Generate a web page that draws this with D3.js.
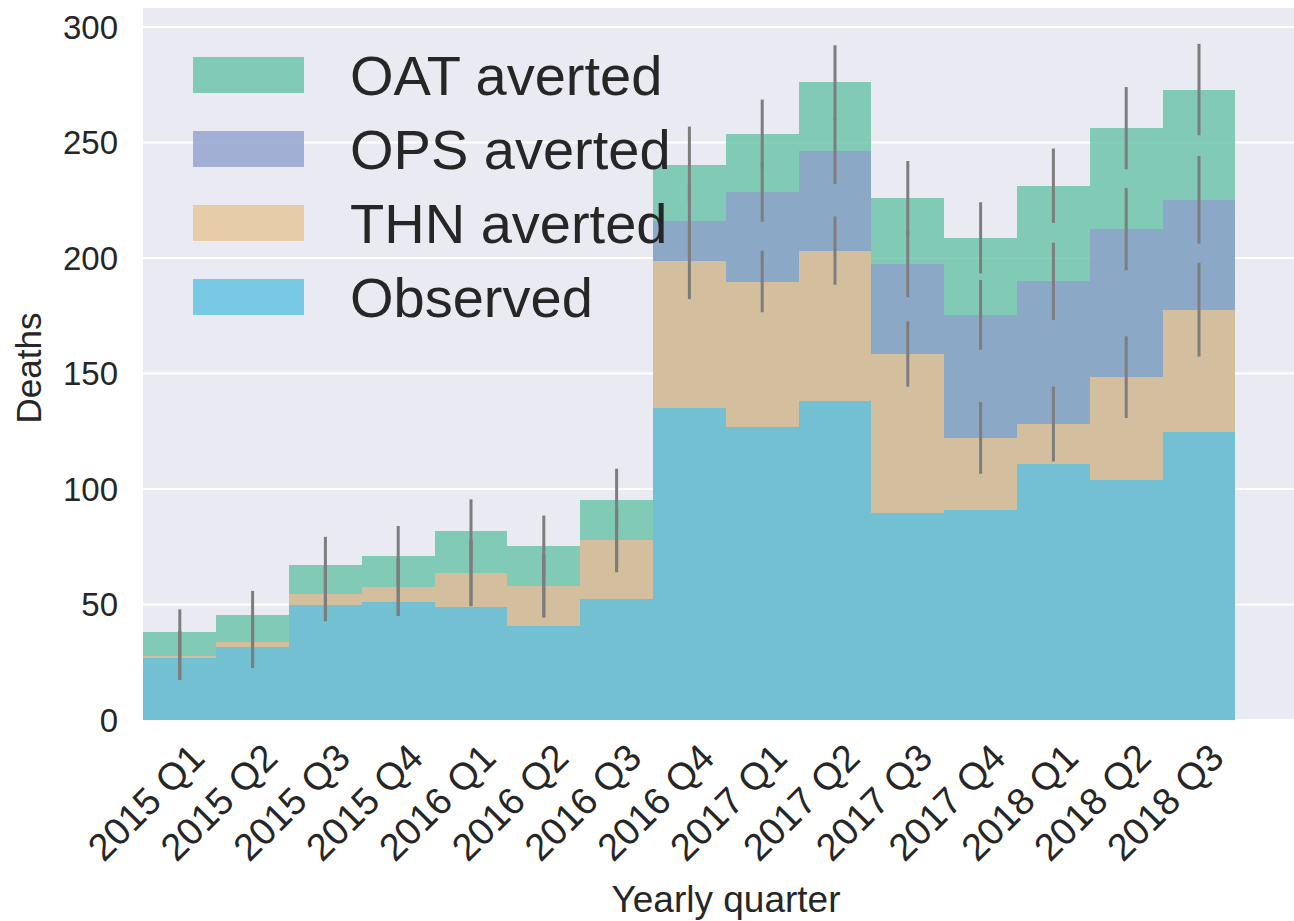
<!DOCTYPE html>
<html>
<head>
<meta charset="utf-8">
<script src="https://cdn.jsdelivr.net/npm/d3@7"></script>
<style>
  html, body { margin: 0; padding: 0; background: #fff; }
  svg { display: block; }
  text { font-family: "Liberation Sans", Arial, sans-serif; fill: #262626; }
</style>
</head>
<body>
<svg id="svg" width="1294" height="921"></svg>
<script>
// Data
const quarters = ['2015 Q1', '2015 Q2', '2015 Q3', '2015 Q4', '2016 Q1', '2016 Q2', '2016 Q3', '2016 Q4',
    '2017 Q1', '2017 Q2', '2017 Q3', '2017 Q4', '2018 Q1', '2018 Q2', '2018 Q3']
const observed = [26.8, 31.7, 49.7, 50.9, 49.0, 40.8, 52.5, 135.0, 126.8, 137.9, 89.8, 90.9, 111.0, 104.1, 124.7]
const thnAverted = [1.1, 2.2, 4.9, 6.6, 14.6, 17.3, 25.3, 63.6, 63.0, 65.3, 68.6, 31.2, 17.1, 44.3, 52.9]
const opsAverted = [0, 0, 0, 0, 0, 0, 0, 17.6, 38.9, 43.2, 39.0, 53.3, 61.8, 64.1, 47.6]
const oatAverted = [10.0, 11.4, 12.6, 13.7, 18.4, 17.3, 17.4, 24.0, 24.9, 29.6, 28.4, 33.3, 41.4, 43.7, 47.7]
// error half-widths around each stacked level
const thnErr = [10.6, 11.3, 11.8, 12.4, 14.3, 13.7, 13.8, 16.4, 13.3, 14.8, 14.1, 15.5, 16.2, 17.7, 20.3]
const opsErr = [10.6, 11.3, 11.8, 12.4, 14.3, 13.7, 13.8, 16.0, 13.0, 14.4, 14.4, 15.1, 16.7, 17.8, 19.0]
const oatErr = [10.0, 10.6, 12.1, 12.8, 13.5, 13.1, 13.6, 16.7, 15.0, 16.1, 16.2, 15.4, 16.1, 17.8, 19.8]
const yTicks = [0, 50, 100, 150, 200, 250, 300]

const series = [
    { key: 'observed', label: 'Observed', color: '#5bc0de' },
    { key: 'thn', label: 'THN averted', color: '#e5c494' },
    { key: 'ops', label: 'OPS averted', color: '#8da0cb' },
    { key: 'oat', label: 'OAT averted', color: '#66c2a5' },
]

const rows = quarters.map((q, i) => ({
    quarter: q,
    observed: observed[i],
    thn: thnAverted[i],
    ops: opsAverted[i],
    oat: oatAverted[i],
    err: { thn: thnErr[i], ops: opsErr[i], oat: oatErr[i] },
}))

const svg = d3.select('#svg')
const margin = { top: 8, right: 0, bottom: 201, left: 143 }
const width = 1294

const xScale = d3.scaleBand()
    .domain(quarters)
    .range([143.4, 1235.4])
    .padding(0)

const yScale = d3.scaleLinear()
    .domain([0, 300])
    .range([720, 27])

// Background
svg.append('rect')
    .attr('x', margin.left)
    .attr('y', margin.top)
    .attr('width', width - margin.left - margin.right)
    .attr('height', yScale(0) - margin.top)
    .attr('fill', '#eaeaf2')

// Grid
svg.append('g')
    .selectAll('line')
    .data(yTicks)
    .join('line')
    .attr('x1', margin.left)
    .attr('x2', width - margin.right)
    .attr('y1', (d) => yScale(d))
    .attr('y2', (d) => yScale(d))
    .attr('stroke', '#fff')
    .attr('stroke-width', 2.2)

// Stack
const stack = d3.stack().keys(series.map((s) => s.key))
const stacked = stack(rows)

// Bars: each level drawn from 0 up to its cumulative top, translucent, top level first
const groupBars = svg.append('g').attr('class', 'bars').attr('shape-rendering', 'crispEdges')
stacked.slice().reverse().forEach((layer) => {
    const s = series.find((d) => d.key === layer.key)
    groupBars.append('g')
        .selectAll('rect')
        .data(layer)
        .join('rect')
        .attr('x', (d) => Math.round(xScale(d.data.quarter)))
        .attr('width', (d) => Math.round(xScale(d.data.quarter) + xScale.bandwidth()) - Math.round(xScale(d.data.quarter)))
        .attr('y', (d) => yScale(d[1]))
        .attr('height', (d) => yScale(0) - yScale(d[1]))
        .attr('fill', s.color)
        .attr('fill-opacity', 0.8)
})

// Error bars at the THN, OPS and OAT levels
const errData = []
stacked.forEach((layer) => {
    if (layer.key === 'observed') return
    layer.forEach((d) => {
        const e = d.data.err[layer.key]
        errData.push({ quarter: d.data.quarter, lo: d[1] - e, hi: d[1] + e })
    })
})
svg.append('g')
    .selectAll('line')
    .data(errData)
    .join('line')
    .attr('x1', (d) => xScale(d.quarter) + xScale.bandwidth() / 2)
    .attr('x2', (d) => xScale(d.quarter) + xScale.bandwidth() / 2)
    .attr('y1', (d) => yScale(d.lo))
    .attr('y2', (d) => yScale(d.hi))
    .attr('stroke', '#7d7d7d')
    .attr('stroke-width', 3)

// Y tick labels
svg.append('g')
    .selectAll('text')
    .data(yTicks)
    .join('text')
    .attr('x', 118)
    .attr('y', (d) => yScale(d))
    .attr('dy', '0.36em')
    .attr('text-anchor', 'end')
    .style('font-size', '33px')
    .text((d) => d)

// X tick labels, rotated
svg.append('g')
    .selectAll('text')
    .data(quarters)
    .join('text')
    .attr('transform', (d) => `translate(${xScale(d) + xScale.bandwidth() / 2 + 27},760) rotate(-45)`)
    .attr('text-anchor', 'end')
    .style('font-size', '38px')
    .text((d) => d)

// Axis titles
svg.append('text')
    .attr('x', 726)
    .attr('y', 912)
    .attr('text-anchor', 'middle')
    .style('font-size', '37px')
    .text('Yearly quarter')

svg.append('text')
    .attr('transform', 'translate(41,368) rotate(-90)')
    .attr('text-anchor', 'middle')
    .style('font-size', '35px')
    .text('Deaths')

// Legend
const legendItems = series.slice().reverse()
const legend = svg.append('g').attr('class', 'legend')
legend.selectAll('rect')
    .data(legendItems)
    .join('rect')
    .attr('x', 193)
    .attr('y', (d, i) => 57 + i * 74)
    .attr('width', 111)
    .attr('height', 36)
    .attr('fill', (d) => d.color)
    .attr('fill-opacity', 0.8)
legend.selectAll('text')
    .data(legendItems)
    .join('text')
    .attr('x', 350)
    .attr('y', (d, i) => 75 + i * 74)
    .attr('dy', '0.36em')
    .style('font-size', '56px')
    .text((d) => d.label)
</script>
</body>
</html>
